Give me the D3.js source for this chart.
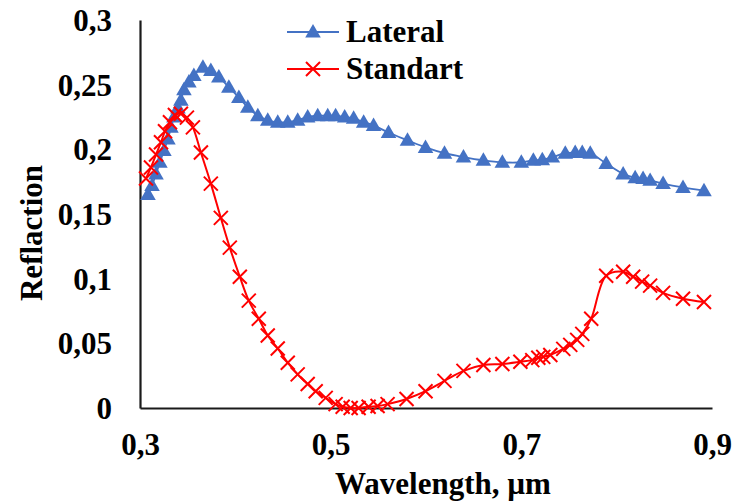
<!DOCTYPE html>
<html>
<head>
<meta charset="utf-8">
<script src="https://cdn.jsdelivr.net/npm/d3@7"></script>
<style>
  html, body { margin: 0; padding: 0; background: #fff; }
  svg { display: block; }
  text { font-family: "Liberation Serif", "Times New Roman", serif; font-weight: bold; fill: #000; }
</style>
</head>
<body>
<svg id="chart" width="736" height="501"></svg>
<script>
// Reflection spectra, wavelength in µm
const lateralX = [0.3084,0.3126,0.3168,0.3209,0.3251,0.3293,0.3325,0.3356,0.3398,0.3429,0.3461,0.3513,0.3565,0.366,0.3743,0.3827,0.3932,0.4037,0.4131,0.4236,0.434,0.4445,0.455,0.4654,0.4759,0.4864,0.4969,0.5052,0.5147,0.5241,0.5346,0.545,0.5607,0.5806,0.5995,0.6194,0.6393,0.6602,0.6801,0.70,0.7126,0.722,0.7325,0.7461,0.7565,0.7639,0.7723,0.789,0.8068,0.8194,0.8277,0.8351,0.8487,0.8696,0.8916];
const lateralY = [0.165,0.172,0.181,0.190,0.199,0.208,0.217,0.225,0.232,0.238,0.246,0.252,0.257,0.2635,0.261,0.256,0.248,0.240,0.2325,0.226,0.2225,0.221,0.221,0.2225,0.225,0.226,0.226,0.226,0.225,0.224,0.221,0.2185,0.213,0.207,0.2015,0.197,0.194,0.1915,0.190,0.190,0.1915,0.192,0.194,0.197,0.1975,0.1975,0.197,0.189,0.181,0.178,0.1775,0.176,0.1735,0.1705,0.168];

const standartX = [0.3063,0.3115,0.3168,0.322,0.3262,0.3314,0.3366,0.3429,0.3492,0.3555,0.3639,0.3743,0.3848,0.3942,0.4047,0.4141,0.4246,0.434,0.4445,0.455,0.4654,0.4759,0.4843,0.4948,0.5052,0.5126,0.521,0.5293,0.5398,0.5492,0.5597,0.5796,0.5995,0.6194,0.6393,0.6602,0.6801,0.699,0.7115,0.7178,0.723,0.7304,0.744,0.7513,0.7586,0.7639,0.7733,0.789,0.8068,0.8173,0.8267,0.8351,0.8487,0.8696,0.8916];
const standartY = [0.1775,0.186,0.196,0.2055,0.214,0.221,0.2265,0.2275,0.2245,0.217,0.1975,0.1735,0.147,0.124,0.1015,0.083,0.069,0.056,0.046,0.035,0.026,0.0185,0.013,0.0078,0.003,0.001,0,0,0.001,0.0015,0.003,0.007,0.013,0.021,0.0287,0.0333,0.034,0.0357,0.037,0.0388,0.0395,0.041,0.0457,0.0488,0.0527,0.0573,0.069,0.1023,0.1054,0.1015,0.0977,0.0946,0.089,0.0845,0.082];

const xTicks = [0.3, 0.5, 0.7, 0.9];
const yTicks = [0, 0.05, 0.1, 0.15, 0.2, 0.25, 0.3];
const seriesNames = ["Lateral", "Standart"];
const seriesColors = ["#4472C4", "#FF0000"];

const FONT = 31;
const svg = d3.select("#chart");
const margin = { left: 140, right: 24, top: 20, bottom: 93 };
const W = 736, H = 501;

const x = d3.scaleLinear().domain([0.3, 0.9]).range([margin.left, W - margin.right]);
const y = d3.scaleLinear().domain([0, 0.3]).range([H - margin.bottom, margin.top]);

const fmt = d => String(d).replace(".", ",");

// axes (no tick marks, only labels)
const xAxis = svg.append("g")
  .attr("transform", `translate(0,${y(0)})`)
  .call(d3.axisBottom(x).tickValues(xTicks).tickFormat(fmt).tickSize(0).tickPadding(25));
const yAxis = svg.append("g")
  .attr("transform", `translate(${x(0.3)},0)`)
  .call(d3.axisLeft(y).tickValues(yTicks).tickFormat(fmt).tickSize(0).tickPadding(28));

[xAxis, yAxis].forEach(g => {
  g.select(".domain").attr("stroke", "#1a1a1a").attr("stroke-width", 2.2);
  g.selectAll("text").attr("font-family", "Liberation Serif, serif")
    .attr("font-weight", "bold").attr("font-size", FONT).attr("fill", "#000");
});
xAxis.selectAll("text").attr("dy", "0.71em");
yAxis.selectAll("text").attr("dy", "0.34em");

// axis titles
svg.append("text").attr("x", 443).attr("y", 494).attr("text-anchor", "middle")
  .attr("font-size", FONT).text("Wavelength, µm");
svg.append("text").attr("transform", "translate(42,233) rotate(-90)").attr("text-anchor", "middle")
  .attr("font-size", FONT).text("Reflaction");

const line = d3.line().curve(d3.curveCatmullRom.alpha(0.5))
  .x(d => x(d[0])).y(d => y(d[1]));

const lateral = lateralX.map((v, i) => [v, lateralY[i]]);
const standart = standartX.map((v, i) => [v, standartY[i]]);

const triangle = d3.symbol().type(d3.symbolTriangle).size(105);

function drawTriangle(g, cx, cy) {
  g.append("path").attr("d", triangle()).attr("transform", `translate(${cx},${cy + 1})`)
    .attr("fill", seriesColors[0]);
}
function drawCross(g, cx, cy) {
  const s = 7;
  g.append("path").attr("d", `M${cx - s},${cy - s}L${cx + s},${cy + s}M${cx - s},${cy + s}L${cx + s},${cy - s}`)
    .attr("stroke", seriesColors[1]).attr("stroke-width", 2).attr("fill", "none");
}

// Lateral
svg.append("path").datum(lateral).attr("d", line)
  .attr("fill", "none").attr("stroke", seriesColors[0]).attr("stroke-width", 1.8);
const gL = svg.append("g");
lateral.forEach(d => drawTriangle(gL, x(d[0]), y(d[1])));

// Standart
svg.append("path").datum(standart).attr("d", line)
  .attr("fill", "none").attr("stroke", seriesColors[1]).attr("stroke-width", 2);
const gS = svg.append("g");
standart.forEach(d => drawCross(gS, x(d[0]), y(d[1])));

// legend
const legend = svg.append("g");
const legY = [32, 69];
seriesNames.forEach((name, i) => {
  legend.append("line").attr("x1", 287).attr("x2", 339).attr("y1", legY[i]).attr("y2", legY[i])
    .attr("stroke", seriesColors[i]).attr("stroke-width", 2);
  if (i === 0) drawTriangle(legend, 313, legY[i]);
  else drawCross(legend, 313, legY[i]);
  legend.append("text").attr("x", 346).attr("y", legY[i] + 10)
    .attr("font-size", FONT).text(name);
});
</script>
</body>
</html>
